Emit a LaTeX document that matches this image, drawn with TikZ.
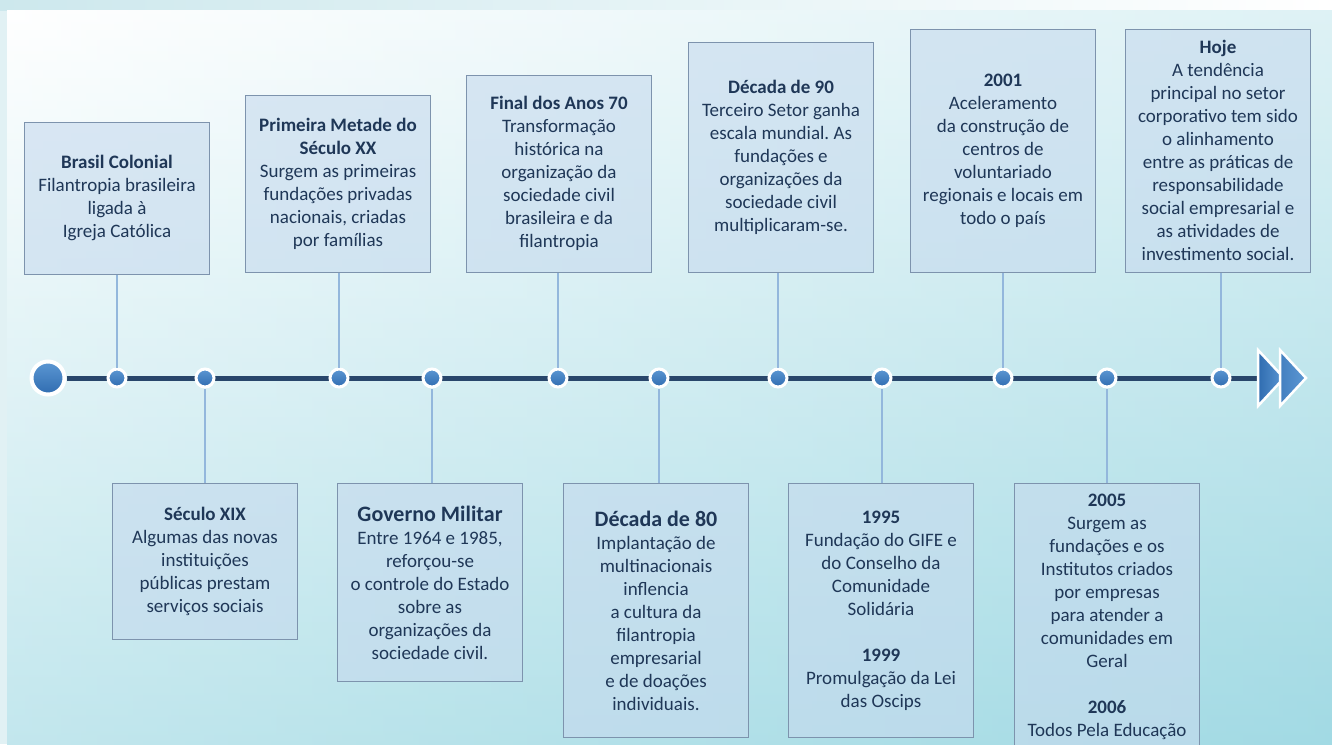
\documentclass[tikz,border=0pt]{standalone}
\usepackage{fontspec}
\setmainfont{Carlito}
\frenchspacing
\definecolor{txt}{HTML}{1F3757}
\definecolor{boxline}{HTML}{7D93AD}
\definecolor{boxfill}{HTML}{C6DAEE}
\definecolor{stemblue}{HTML}{93B7DC}
\definecolor{dotdark}{HTML}{2F6CB0}
\definecolor{dotlight}{HTML}{5C97D3}
\definecolor{axisblue}{HTML}{28466B}
\definecolor{bgstrip}{HTML}{CDE8ED}
\definecolor{bgmid}{HTML}{EAF6F9}
\definecolor{bgbottom}{HTML}{A2DAE4}
\begin{document}
\begin{tikzpicture}[x=1pt,y=-1pt,
  box/.style={draw=boxline, line width=1.4pt, fill=boxfill, fill opacity=0.6, text opacity=1,
    text=txt, minimum width=185pt, align=center, inner sep=3pt,
    font=\fontsize{19}{23}\selectfont},
  stem/.style={draw=stemblue, line width=2.5pt},
  dot/.style={circle, draw=white, line width=3pt, top color=dotlight, bottom color=dotdark,
    minimum size=18pt, inner sep=0pt},
  bigdot/.style={dot, line width=4pt, minimum size=33pt},
  tri/.style={draw=white, line width=2.5pt, left color=dotdark, right color=dotlight}]

   % fundo
   \useasboundingbox (0,0) rectangle (1332,744);
   \clip (0,0) rectangle (1332,744);
   \fill[bgstrip!60] (0,0) rectangle (1332,744);
   \shade[left color=bgstrip, right color=white] (0,0) rectangle (1332,10);
   \shade[top color=white, middle color=bgmid, bottom color=bgbottom] (7,10) rectangle (1332,744);
   \shade[left color=white, right color=bgbottom, opacity=0.35] (7,10) rectangle (1332,744);

   % caixas de cima
   \node[box, minimum height=152pt, anchor=south] (colonial) at (117,275)
     {\textbf{Brasil Colonial}\\Filantropia brasileira\\ligada à\\Igreja Católica};
   \node[box, minimum height=177pt, anchor=south] (primeira) at (338,273)
     {\textbf{Primeira Metade do}\\\textbf{Século XX}\\Surgem as primeiras\\fundações privadas\\nacionais, criadas\\por famílias};
   \node[box, minimum height=197pt, anchor=south] (anos70) at (559,273)
     {\textbf{Final dos Anos 70}\\Transformação\\histórica na\\organização da\\sociedade civil\\brasileira e da\\filantropia};
   \node[box, minimum height=230pt, anchor=south] (dec90) at (781,273)
     {\textbf{Década de 90}\\Terceiro Setor ganha\\escala mundial. As\\fundações e\\organizações da\\sociedade civil\\multiplicaram-se.};
   \node[box, minimum height=243pt, anchor=south] (ano2001) at (1003,273)
     {\textbf{2001}\\Aceleramento\\da construção de\\centros de\\voluntariado\\regionais e locais em\\todo o país};
   \node[box, minimum height=243pt, anchor=south] (hoje) at (1218,273)
     {\textbf{Hoje}\\A tendência\\principal no setor\\corporativo tem sido\\o alinhamento\\entre as práticas de\\responsabilidade\\social empresarial e\\as atividades de\\investimento social.};

   % caixas de baixo
   \node[box, minimum height=156pt, anchor=north] (sec19) at (205,483)
     {\textbf{Século XIX}\\Algumas das novas\\instituições\\públicas prestam\\serviços sociais};
   \node[box, minimum height=198pt, anchor=north] (militar) at (430,483)
     {{\fontsize{22}{25}\selectfont\bfseries Governo Militar}\\Entre 1964 e 1985,\\reforçou-se\\o controle do Estado\\sobre as\\organizações da\\sociedade civil.};
   \node[box, minimum height=254pt, anchor=north] (dec80) at (656,483)
     {{\fontsize{22}{25}\selectfont\bfseries Década de 80}\\Implantação de\\multinacionais\\inflencia\\a cultura da\\filantropia\\empresarial\\e de doações\\individuais.};
   \node[box, minimum height=254pt, anchor=north] (ano1995) at (881,483)
     {\textbf{1995}\\Fundação do GIFE e\\do Conselho da\\Comunidade\\Solidária\\[23pt]\textbf{1999}\\Promulgação da Lei\\das Oscips};
   \node[box, minimum height=266pt, anchor=north] (ano2005) at (1107,483)
     {\textbf{2005}\\Surgem as\\fundações e os\\Institutos criados\\por empresas\\para atender a\\comunidades em\\Geral\\[23pt]\textbf{2006}\\Todos Pela Educação};

   % linha do tempo
   \node[bigdot] (inicio) at (48,378) {};
   \coordinate (fim) at (1258,378);
   \draw[axisblue, line width=5pt] (inicio) -- (fim);

   \node[dot] (d1) at (117,378) {};
   \node[dot] (d2) at (205,378) {};
   \node[dot] (d3) at (339,378) {};
   \node[dot] (d4) at (432,378) {};
   \node[dot] (d5) at (558,378) {};
   \node[dot] (d6) at (659,378) {};
   \node[dot] (d7) at (778,378) {};
   \node[dot] (d8) at (882,378) {};
   \node[dot] (d9) at (1003,378) {};
   \node[dot] (d10) at (1107,378) {};
   \node[dot] (d11) at (1221,378) {};

   % hastes
   \draw[stem] (colonial.south -| d1) -- (d1);
   \draw[stem] (sec19.north -| d2) -- (d2);
   \draw[stem] (primeira.south -| d3) -- (d3);
   \draw[stem] (militar.north -| d4) -- (d4);
   \draw[stem] (anos70.south -| d5) -- (d5);
   \draw[stem] (dec80.north -| d6) -- (d6);
   \draw[stem] (dec90.south -| d7) -- (d7);
   \draw[stem] (ano1995.north -| d8) -- (d8);
   \draw[stem] (ano2001.south -| d9) -- (d9);
   \draw[stem] (ano2005.north -| d10) -- (d10);
   \draw[stem] (hoje.south -| d11) -- (d11);

   % setas duplas
   \draw[tri] (fim) ++(0,-28) -- ++(26,28) -- ++(-26,28) -- cycle;
   \draw[tri] (fim) ++(22,-28) -- ++(26,28) -- ++(-26,28) -- cycle;

\end{tikzpicture}
\end{document}
